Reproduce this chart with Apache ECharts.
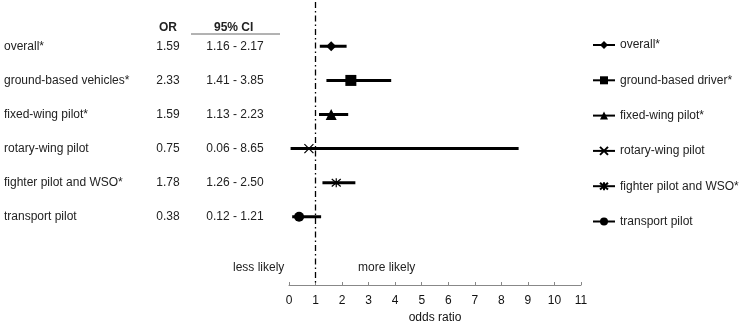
<!DOCTYPE html>
<html>
<head>
<meta charset="utf-8">
<script src="https://cdn.jsdelivr.net/npm/echarts@6/dist/echarts.min.js"></script>
<style>
  html, body { margin: 0; padding: 0; background: #fff; }
  #main { width: 740px; height: 321px; }
</style>
</head>
<body>
<div id="main"></div>
<script>
// rows of the forest plot, top to bottom
const rowLabels = ['overall*', 'ground-based vehicles*', 'fixed-wing pilot*', 'rotary-wing pilot', 'fighter pilot and WSO*', 'transport pilot'];
const legendNames = ['overall*', 'ground-based driver*', 'fixed-wing pilot*', 'rotary-wing pilot', 'fighter pilot and WSO*', 'transport pilot'];
const oddsRatio = [1.59, 2.33, 1.59, 0.75, 1.78, 0.38];
const ciLow = [1.16, 1.41, 1.13, 0.06, 1.26, 0.12];
const ciHigh = [2.17, 3.85, 2.23, 8.65, 2.50, 1.21];
const xTicks = [0, 1, 2, 3, 4, 5, 6, 7, 8, 9, 10, 11];

const markers = ['diamond', 'rect', 'triangle',
  'path://M0,0L10,10M10,0L0,10',
  'path://M0,0L10,10M10,0L0,10M5,-1L5,11',
  'circle'];
const markerSize = [10, 11, 11, 9, 9, 10];

const FONT = 'Liberation Sans, Arial, sans-serif';

const chart = echarts.init(document.getElementById('main'));

const series = rowLabels.map(function (name, i) {
  const s = {
    name: legendNames[i],
    type: 'line',
    symbol: markers[i],
    symbolSize: markerSize[i],
    showSymbol: true,
    animation: false,
    lineStyle: { color: '#000', width: 3 },
    itemStyle: { color: '#000', borderColor: '#000', borderWidth: (i === 3 || i === 4) ? 1.2 : 0 },
    data: [
      { value: [ciLow[i], i], symbol: 'none' },
      { value: [oddsRatio[i], i] },
      { value: [ciHigh[i], i], symbol: 'none' }
    ]
  };
  if (i === 0) {
    // reference line at odds ratio = 1
    s.markLine = {
      silent: true,
      symbol: 'none',
      label: { show: false },
      lineStyle: { color: '#000', width: 1.3, type: [6, 3, 1.5, 3] },
      data: [{ xAxis: 1 }]
    };
  }
  return s;
});

chart.setOption({
  animation: false,
  textStyle: { fontFamily: FONT },
  grid: { left: 289, right: 159, top: 2, bottom: 36, outerBoundsMode: 'none', containLabel: false },
  xAxis: {
    type: 'value',
    min: 0,
    max: 11,
    interval: 1,
    name: 'odds ratio',
    nameLocation: 'middle',
    nameGap: 21,
    nameTextStyle: { fontSize: 12, color: '#111', fontFamily: FONT },
    axisLine: { onZero: false, lineStyle: { color: '#888', width: 1 } },
    axisTick: { show: true, inside: true, length: 3, lineStyle: { color: '#888' } },
    axisLabel: {
      fontSize: 12, color: '#111', margin: 10, fontFamily: FONT,
      formatter: function (v) { return xTicks.indexOf(v) >= 0 ? String(v) : ''; }
    },
    splitLine: { show: false }
  },
  yAxis: {
    type: 'value',
    inverse: true,
    min: -1.3,
    max: 7,
    splitNumber: 9,
    axisLine: { show: false },
    axisTick: { show: false },
    splitLine: { show: false },
    axisLabel: {
      align: 'left',
      margin: 285,
      showMinLabel: true,
      showMaxLabel: true,
      fontFamily: FONT,
      formatter: function (v) {
        const i = Math.round(v);
        if (Math.abs(v - i) > 1e-6 || i < 0 || i >= rowLabels.length) return '';
        return '{a|' + rowLabels[i] + '}{b|' + oddsRatio[i].toFixed(2) + '}{c|' +
          ciLow[i].toFixed(2) + ' - ' + ciHigh[i].toFixed(2) + '}';
      },
      rich: {
        a: { width: 140, align: 'left', fontSize: 12, color: '#222', fontFamily: FONT },
        b: { width: 48, align: 'center', fontSize: 12, color: '#222', fontFamily: FONT },
        c: { width: 86, align: 'center', fontSize: 12, color: '#222', fontFamily: FONT }
      }
    }
  },
  legend: {
    orient: 'vertical',
    left: 592,
    top: 39,
    padding: 0,
    itemWidth: 22,
    itemHeight: 10,
    itemGap: 23.3,
    textStyle: { fontSize: 12, color: '#222', fontFamily: FONT },
    data: legendNames
  },
  graphic: [
    { type: 'text', left: 159, top: 22, style: { text: 'OR', font: 'bold 12px ' + FONT, fill: '#222' } },
    { type: 'text', left: 214, top: 22, style: { text: '95% CI', font: 'bold 12px ' + FONT, fill: '#222' } },
    { type: 'line', shape: { x1: 191, y1: 34, x2: 280, y2: 34 }, style: { stroke: '#666', lineWidth: 1 } },
    { type: 'text', left: 233, top: 262, style: { text: 'less likely', font: '12px ' + FONT, fill: '#222' } },
    { type: 'text', left: 358, top: 262, style: { text: 'more likely', font: '12px ' + FONT, fill: '#222' } }
  ],
  series: series
});
</script>
</body>
</html>
